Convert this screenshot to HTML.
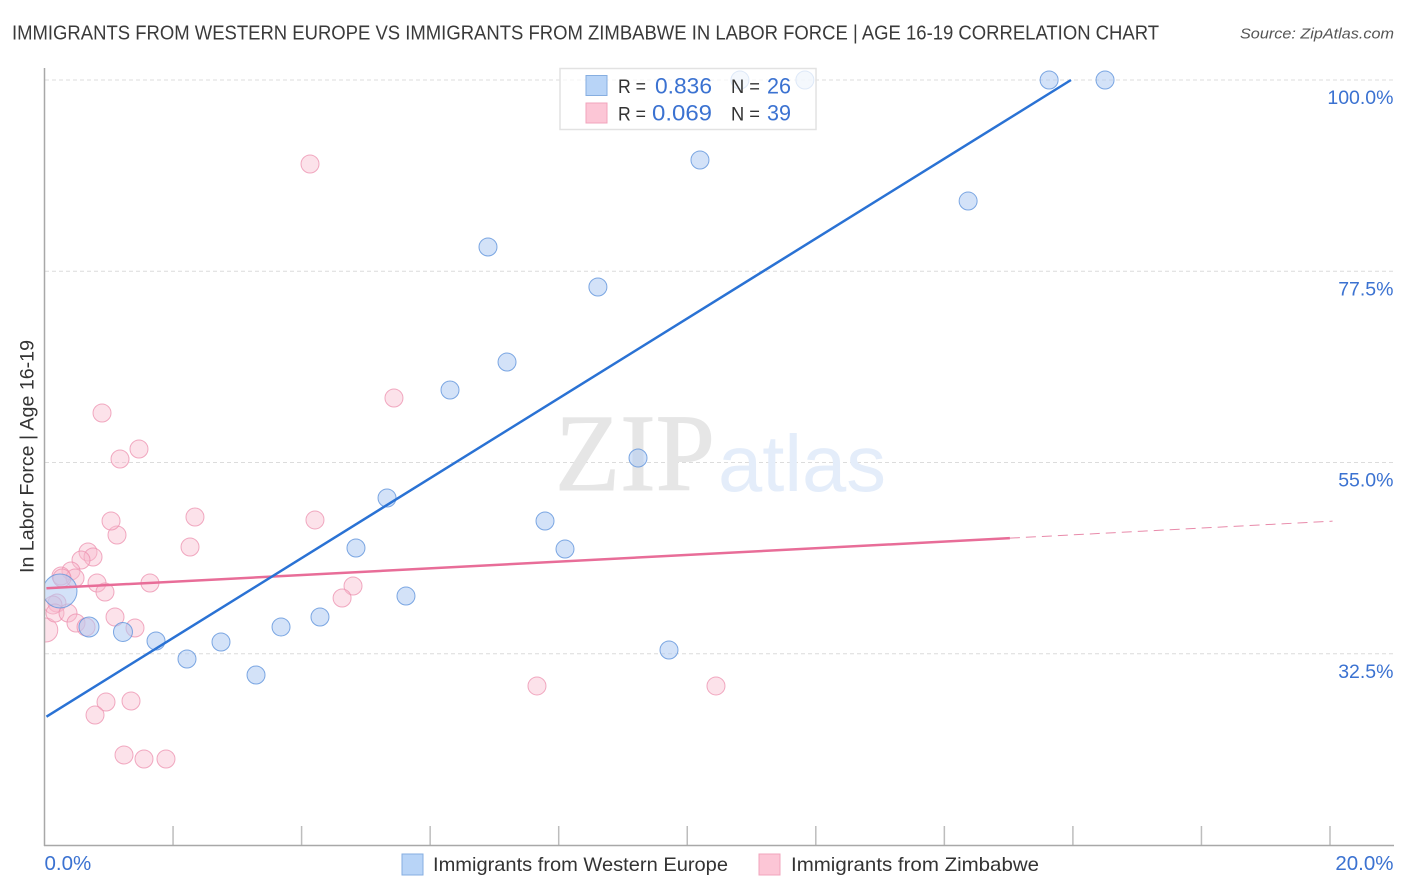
<!DOCTYPE html>
<html lang="en">
<head>
<meta charset="utf-8">
<title>Immigrants from Western Europe vs Immigrants from Zimbabwe in Labor Force | Age 16-19 Correlation Chart</title>
<style>
html,body{margin:0;padding:0;background:#fff;}
body{width:1406px;height:892px;overflow:hidden;font-family:"Liberation Sans",sans-serif;}
svg{display:block;}
text{font-family:"Liberation Sans",sans-serif;}
</style>
</head>
<body>
<svg id="chart" width="1406" height="892" viewBox="0 0 1406 892" xmlns="http://www.w3.org/2000/svg">
  <defs><clipPath id="plot-clip"><rect x="44" y="60" width="1350" height="786"/></clipPath></defs>
  <text x="12" y="39.5" font-size="20" fill="#3a3a3a" textLength="1147" lengthAdjust="spacingAndGlyphs">IMMIGRANTS FROM WESTERN EUROPE VS IMMIGRANTS FROM ZIMBABWE IN LABOR FORCE | AGE 16-19 CORRELATION CHART</text>
  <text x="1394" y="38.5" font-size="15" font-style="italic" fill="#555" text-anchor="end" textLength="154" lengthAdjust="spacingAndGlyphs">Source: ZipAtlas.com</text>
  <g id="grid"></g>
  <g>
    <text x="555" y="490" font-size="110" style="font-family:'Liberation Serif',serif" fill="#e6e6e6" stroke="#e6e6e6" stroke-width="1" textLength="160" lengthAdjust="spacingAndGlyphs">ZIP</text>
    <text x="718" y="491" font-size="80" fill="#e4edfa" textLength="168" lengthAdjust="spacingAndGlyphs">atlas</text>
  </g>
  <g id="pink-points" clip-path="url(#plot-clip)"></g>
  <g id="blue-points" clip-path="url(#plot-clip)"></g>
  <g id="trends"></g>
  <g id="axes"></g>
  <text transform="translate(33.5,456.5) rotate(-90)" font-size="19.5" fill="#333" text-anchor="middle" textLength="233" lengthAdjust="spacingAndGlyphs">In Labor Force | Age 16-19</text>

  <g>
    <rect x="560" y="68.5" width="256" height="61" fill="#fff" fill-opacity="0.75" stroke="#e2e2e2" stroke-width="1.5"/>
    <rect x="586" y="75.5" width="21" height="20" fill="#b8d4f7" stroke="#86aee0" stroke-width="1"/>
    <rect x="586" y="103" width="21" height="20" fill="#fcc6d6" stroke="#f2a4bc" stroke-width="1"/>
    <text x="618" y="93" font-size="19.5" fill="#333" textLength="28" lengthAdjust="spacingAndGlyphs">R =</text>
    <text x="655" y="93.5" font-size="22" fill="#3b72d1" textLength="57" lengthAdjust="spacingAndGlyphs">0.836</text>
    <text x="731" y="93" font-size="19.5" fill="#333" textLength="29" lengthAdjust="spacingAndGlyphs">N =</text>
    <text x="767" y="93.5" font-size="22" fill="#3b72d1" textLength="24" lengthAdjust="spacingAndGlyphs">26</text>
    <text x="618" y="120.5" font-size="19.5" fill="#333" textLength="28" lengthAdjust="spacingAndGlyphs">R =</text>
    <text x="652" y="120.5" font-size="22" fill="#3b72d1" textLength="60" lengthAdjust="spacingAndGlyphs">0.069</text>
    <text x="731" y="120.5" font-size="19.5" fill="#333" textLength="29" lengthAdjust="spacingAndGlyphs">N =</text>
    <text x="767" y="120.5" font-size="22" fill="#3b72d1" textLength="24" lengthAdjust="spacingAndGlyphs">39</text>
  </g>

  <g>
    <rect x="402" y="854" width="21" height="21" fill="#b8d4f7" stroke="#86aee0" stroke-width="1"/>
    <text x="433" y="871" font-size="19.5" fill="#333" textLength="295" lengthAdjust="spacingAndGlyphs">Immigrants from Western Europe</text>
    <rect x="759" y="854" width="21" height="21" fill="#fcc6d6" stroke="#f2a4bc" stroke-width="1"/>
    <text x="791" y="871" font-size="19.5" fill="#333" textLength="248" lengthAdjust="spacingAndGlyphs">Immigrants from Zimbabwe</text>
  </g>
</svg>
<script>
// Chart data: x = immigrants share (%), y = labor force participation (%)
const yTickValues = [100, 77.5, 55, 32.5];
const yTickLabels = ["100.0%", "77.5%", "55.0%", "32.5%"];
const xTickValues = [0, 2, 4, 6, 8, 10, 12, 14, 16, 18, 20];
const xEndLabels = ["0.0%", "20.0%"];

const blueX = [0.241, 0.692, 1.221, 1.735, 2.217, 2.746, 3.291, 3.68, 4.286, 4.846, 5.329, 5.624, 6.309, 6.90, 7.196, 7.787, 8.098, 8.61, 9.234, 9.716, 10.198, 10.82, 11.83, 14.37, 15.63, 16.5];
const blueY = [39.88, 35.65, 35.06, 34.0, 31.88, 33.88, 30.0, 35.65, 36.82, 44.94, 50.82, 39.29, 63.53, 80.35, 66.82, 48.12, 44.82, 75.65, 55.53, 32.94, 90.59, 100, 100, 85.76, 100, 100];
const blueR = [17, 10, 9.5, 9, 9, 9, 9, 9, 9, 9, 9, 9, 9, 9, 9, 9, 9, 9, 9, 9, 9, 9, 9, 9, 9, 9];

const pinkX = [0.02, 0.677, 0.755, 0.568, 0.412, 0.257, 0.475, 0.272, 0.817, 1.641, 0.941, 0.194, 0.132, 0.163, 0.366, 0.49, 0.646, 1.097, 1.408, 0.957, 1.346, 0.786, 1.237, 1.548, 1.89, 2.264, 1.128, 1.035, 2.341, 4.208, 1.175, 1.47, 0.895, 5.437, 4.131, 4.8, 4.63, 7.662, 10.447];
const pinkY = [35.29, 44.47, 43.88, 43.53, 42.24, 41.65, 41.41, 41.41, 40.82, 40.82, 39.76, 38.47, 38.24, 37.29, 37.29, 36.12, 35.65, 36.82, 35.53, 26.82, 26.94, 25.29, 20.59, 20.12, 20.12, 45.06, 46.47, 48.12, 48.59, 48.24, 55.41, 56.59, 60.82, 62.59, 90.12, 40.47, 39.06, 28.71, 28.71];
const pinkR = [12, 9, 9, 9, 9, 9, 9, 9, 9, 9, 9, 9, 9, 9, 9, 9, 9, 9, 9, 9, 9, 9, 9, 9, 9, 9, 9, 9, 9, 9, 9, 9, 9, 9, 9, 9, 9, 9, 9];

const blueTrendX = [0.03, 15.97];
const blueTrendY = [25.1, 100];
const pinkTrendX = [0.03, 15.02];
const pinkTrendY = [40.2, 46.1];
const pinkDashX = [15.02, 20.04];
const pinkDashY = [46.1, 48.1];

// Axis functions
function xScale(v){ return 44.5 + v * 64.275; }
function yScale(v){ return 80 + (100 - v) * 8.5; }

const SVGNS = "http://www.w3.org/2000/svg";
const grid = document.getElementById("grid");
const axes = document.getElementById("axes");
const trends = document.getElementById("trends");
const bluePts = document.getElementById("blue-points");
const pinkPts = document.getElementById("pink-points");

yTickValues.forEach(function(v, i){
  const line = document.createElementNS(SVGNS, "line");
  line.setAttribute("x1", 45);
  line.setAttribute("x2", 1394);
  line.setAttribute("y1", yScale(v));
  line.setAttribute("y2", yScale(v));
  line.setAttribute("stroke", "#dcdcdc");
  line.setAttribute("stroke-width", "1");
  line.setAttribute("stroke-dasharray", "4 3");
  
  
  grid.appendChild(line);

  const label = document.createElementNS(SVGNS, "text");
  label.setAttribute("x", 1393.5);
  label.setAttribute("y", yScale(v) + 24);
  label.setAttribute("text-anchor", "end");
  label.setAttribute("font-size", "19.5");
  label.setAttribute("fill", "#3b72d1");
  label.textContent = yTickLabels[i];
  
  
  axes.appendChild(label);
});

xTickValues.forEach(function(v){
  if (v === 0) return;
  const tick = document.createElementNS(SVGNS, "line");
  tick.setAttribute("x1", xScale(v));
  tick.setAttribute("x2", xScale(v));
  tick.setAttribute("y1", 826);
  tick.setAttribute("y2", 846);
  tick.setAttribute("stroke", "#bdbdbd");
  tick.setAttribute("stroke-width", "1.5");
  
  
  axes.appendChild(tick);
});

const axisY = document.createElementNS(SVGNS, "line");
axisY.setAttribute("x1", 44.5);
axisY.setAttribute("x2", 44.5);
axisY.setAttribute("y1", 68);
axisY.setAttribute("y2", 846);
axisY.setAttribute("stroke", "#a8a8a8");
axisY.setAttribute("stroke-width", "1.5");


axes.appendChild(axisY);

const axisX = document.createElementNS(SVGNS, "line");
axisX.setAttribute("x1", 44);
axisX.setAttribute("x2", 1394);
axisX.setAttribute("y1", 845.5);
axisX.setAttribute("y2", 845.5);
axisX.setAttribute("stroke", "#a8a8a8");
axisX.setAttribute("stroke-width", "1.5");


axes.appendChild(axisX);

const xLabelStart = document.createElementNS(SVGNS, "text");
xLabelStart.setAttribute("x", xScale(xTickValues[0]));
xLabelStart.setAttribute("y", 870);
xLabelStart.setAttribute("font-size", "20.5");
xLabelStart.setAttribute("fill", "#3b72d1");
xLabelStart.textContent = xEndLabels[0];


axes.appendChild(xLabelStart);

const xLabelEnd = document.createElementNS(SVGNS, "text");
xLabelEnd.setAttribute("x", 1393.5);
xLabelEnd.setAttribute("y", 870);
xLabelEnd.setAttribute("text-anchor", "end");
xLabelEnd.setAttribute("font-size", "20.5");
xLabelEnd.setAttribute("fill", "#3b72d1");
xLabelEnd.textContent = xEndLabels[1];


axes.appendChild(xLabelEnd);

pinkX.forEach(function(v, i){
  const c = document.createElementNS(SVGNS, "circle");
  c.setAttribute("cx", xScale(v));
  c.setAttribute("cy", yScale(pinkY[i]));
  c.setAttribute("r", pinkR[i]);
  c.setAttribute("fill", "#f9b9cd");
  c.setAttribute("fill-opacity", "0.42");
  c.setAttribute("stroke", "#ec8fae");
  c.setAttribute("stroke-opacity", "0.75");
  c.setAttribute("stroke-width", "1");
  
  
  pinkPts.appendChild(c);
});

blueX.forEach(function(v, i){
  const c = document.createElementNS(SVGNS, "circle");
  c.setAttribute("cx", xScale(v));
  c.setAttribute("cy", yScale(blueY[i]));
  c.setAttribute("r", blueR[i]);
  c.setAttribute("fill", "#aecbf2");
  c.setAttribute("fill-opacity", "0.55");
  c.setAttribute("stroke", "#5f94dc");
  c.setAttribute("stroke-opacity", "0.8");
  c.setAttribute("stroke-width", "1");
  
  
  bluePts.appendChild(c);
});

const pinkDash = document.createElementNS(SVGNS, "line");
pinkDash.setAttribute("x1", xScale(pinkDashX[0]));
pinkDash.setAttribute("y1", yScale(pinkDashY[0]));
pinkDash.setAttribute("x2", xScale(pinkDashX[1]));
pinkDash.setAttribute("y2", yScale(pinkDashY[1]));
pinkDash.setAttribute("stroke", "#e88aaa");
pinkDash.setAttribute("stroke-width", "1");
pinkDash.setAttribute("stroke-dasharray", "10 6");


trends.appendChild(pinkDash);

const pinkTrend = document.createElementNS(SVGNS, "line");
pinkTrend.setAttribute("x1", xScale(pinkTrendX[0]));
pinkTrend.setAttribute("y1", yScale(pinkTrendY[0]));
pinkTrend.setAttribute("x2", xScale(pinkTrendX[1]));
pinkTrend.setAttribute("y2", yScale(pinkTrendY[1]));
pinkTrend.setAttribute("stroke", "#e86d98");
pinkTrend.setAttribute("stroke-width", "2.5");


trends.appendChild(pinkTrend);

const blueTrend = document.createElementNS(SVGNS, "line");
blueTrend.setAttribute("x1", xScale(blueTrendX[0]));
blueTrend.setAttribute("y1", yScale(blueTrendY[0]));
blueTrend.setAttribute("x2", xScale(blueTrendX[1]));
blueTrend.setAttribute("y2", yScale(blueTrendY[1]));
blueTrend.setAttribute("stroke", "#2a72d4");
blueTrend.setAttribute("stroke-width", "2.5");


trends.appendChild(blueTrend);
</script>
</body>
</html>
